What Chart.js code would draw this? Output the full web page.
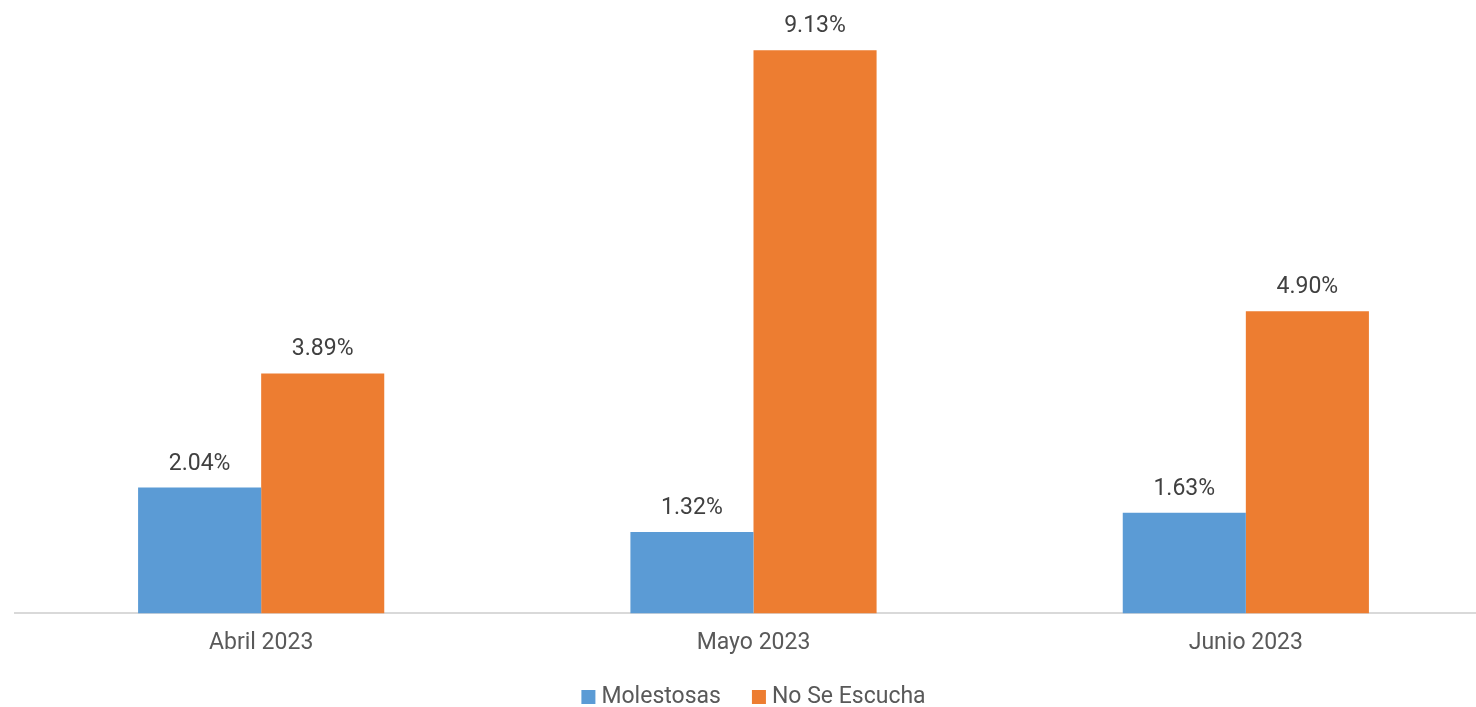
<!DOCTYPE html>
<html>
<head>
<meta charset="utf-8">
<title>Molestosas / No Se Escucha</title>
<script src="https://cdn.jsdelivr.net/npm/chart.js@4"></script>
<style>
    html, body { margin: 0; padding: 0; background: #fff; overflow: hidden; }
    #wrap { width: 1492px; height: 707px; }
</style>
</head>
<body>
<div id="wrap"><canvas id="chart"></canvas></div>
<script>
const months = ['Abril 2023', 'Mayo 2023', 'Junio 2023'];
const molestosas = [2.04, 1.32, 1.63];
const noSeEscucha = [3.89, 9.13, 4.90];

const FONT = 'Roboto, "Noto Sans", sans-serif';

// percentage labels over each bar
const valueLabels = {
    id: 'valueLabels',
    afterDatasetsDraw(chart) {
        const ctx = chart.ctx;
        ctx.save();
        ctx.font = `23px ${FONT}`;
        ctx.fillStyle = '#404040';
        ctx.textAlign = 'center';
        ctx.textBaseline = 'alphabetic';
        chart.data.datasets.forEach((ds, i) => {
            chart.getDatasetMeta(i).data.forEach((bar, j) => {
                ctx.fillText(ds.data[j].toFixed(2) + '%', bar.x, bar.y - 18);
            });
        });
        ctx.restore();
    }
};

// compact legend at the bottom: small square, short gap, then the name
const bottomLegend = {
    id: 'bottomLegend',
    afterDraw(chart) {
        const ctx = chart.ctx;
        const box = 14, gap = 6, spacing = 31;
        ctx.save();
        ctx.font = `23px ${FONT}`;
        ctx.textBaseline = 'middle';
        ctx.textAlign = 'left';
        const items = chart.data.datasets.map(ds => ({
            text: ds.label,
            color: ds.backgroundColor,
            w: box + gap + ctx.measureText(ds.label).width,
        }));
        const total = items.reduce((s, it) => s + it.w, 0) + spacing * (items.length - 1);
        const cy = 697;
        let x = (chart.chartArea.left + chart.chartArea.right) / 2 - total / 2;
        items.forEach(it => {
            ctx.fillStyle = it.color;
            ctx.fillRect(x, cy - box / 2, box, box);
            ctx.fillStyle = '#595959';
            ctx.fillText(it.text, x + box + gap, cy);
            x += it.w + spacing;
        });
        ctx.restore();
    }
};

new Chart(document.getElementById('chart'), {
    type: 'bar',
    data: {
        labels: months,
        datasets: [
            { label: 'Molestosas', data: molestosas, backgroundColor: '#5B9BD5', borderWidth: 0 },
            { label: 'No Se Escucha', data: noSeEscucha, backgroundColor: '#ED7D31', borderWidth: 0 },
        ],
    },
    options: {
        responsive: true,
        maintainAspectRatio: false,
        animation: false,
        layout: { padding: { left: 15, right: 0, top: 9, bottom: 34 } },
        datasets: { bar: { categoryPercentage: 0.5, barPercentage: 1.0 } },
        scales: {
            x: {
                grid: { display: false, drawTicks: false },
                border: { color: '#d9d9d9', width: 2 },
                ticks: { color: '#595959', font: { family: FONT, size: 23 }, padding: 16 },
            },
            y: {
                display: false,
                min: 0,
                max: 9.8,
            },
        },
        plugins: {
            legend: { display: false },
            tooltip: { enabled: false },
        },
    },
    plugins: [valueLabels, bottomLegend],
});
</script>
</body>
</html>
